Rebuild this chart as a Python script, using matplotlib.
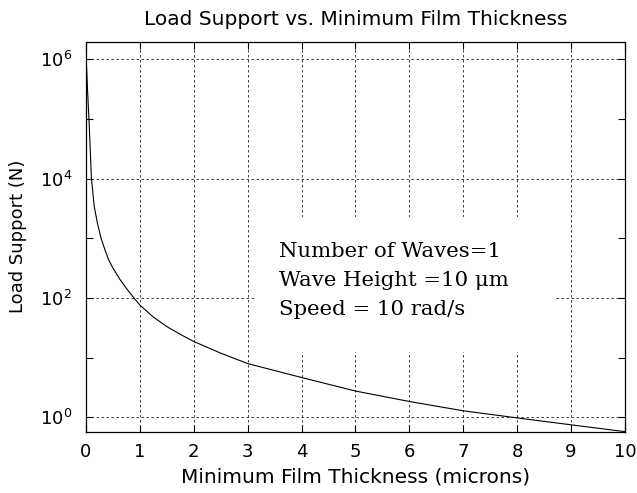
import numpy as np
import matplotlib
matplotlib.use('Agg')
from matplotlib import pyplot as plt
from matplotlib.patches import Rectangle
from matplotlib.ticker import FixedLocator, NullFormatter

# values (log10 of load support)
film_thickness = [0.012, 0.03, 0.055, 0.1, 0.15, 0.21, 0.28, 0.35, 0.42, 0.5,
                  0.63, 0.75, 0.88, 1.0, 1.25, 1.5, 1.75, 2.0, 2.5, 3.0,
                  4.0, 5.0, 6.0, 7.0, 8.0, 9.0, 10.0]
log_load = [5.85, 5.45, 5.0, 4.02, 3.55, 3.26, 3.0, 2.81, 2.64, 2.5,
            2.31, 2.16, 2.01, 1.88, 1.68, 1.52, 1.39, 1.27, 1.075, 0.90,
            0.667, 0.44, 0.265, 0.109, -0.01, -0.126, -0.24]
load_support = [10 ** v for v in log_load]

x_ticks = list(range(0, 11))
y_major = [1e0, 1e2, 1e4, 1e6]
y_minor = [1e1, 1e3, 1e5]

plt.rcParams['font.family'] = ['DejaVu Sans']

fig = plt.figure(figsize=(6.37, 4.93), dpi=100)
ax = fig.add_axes([0.135, 0.124, 0.846, 0.7915])
ax.set_axisbelow(True)

ax.semilogy(film_thickness, load_support, color='black', linewidth=0.8, zorder=2)

ax.set_xlim(0, 10)
ax.set_ylim(0.57, 1.97e6)
ax.set_xticks(x_ticks)
ax.yaxis.set_major_locator(FixedLocator(y_major))
ax.yaxis.set_minor_locator(FixedLocator(y_minor))
ax.yaxis.set_minor_formatter(NullFormatter())

ax.tick_params(which='both', direction='in', top=True, right=True,
               labelsize=13, width=0.8, length=5)
ax.tick_params(axis='x', pad=8)
ax.tick_params(axis='y', pad=10)

ax.grid(True, which='major', color='#222222', linestyle=(0, (3, 3)), linewidth=0.6)
for s in ax.spines.values():
    s.set_linewidth(0.9)

ax.set_title('Load Support vs. Minimum Film Thickness', fontsize=14.5, pad=12)
ax.set_xlabel('Minimum Film Thickness (microns)', fontsize=14.5, labelpad=5)
ax.set_ylabel('Load Support (N)', fontsize=13, labelpad=9)

# white patch behind the annotation hides the grid there
ax.add_patch(Rectangle((0.3135, 0.205), 0.5565, 0.346, transform=ax.transAxes,
                       facecolor='white', edgecolor='none', zorder=1))
ax.text(0.358, 0.487, 'Number of Waves=1\nWave Height =10 \u03bcm\nSpeed = 10 rad/s',
        transform=ax.transAxes, family='DejaVu Serif', fontsize=15.3,
        va='top', ha='left', linespacing=1.68, zorder=3)

plt.savefig('out.png', dpi=100)
